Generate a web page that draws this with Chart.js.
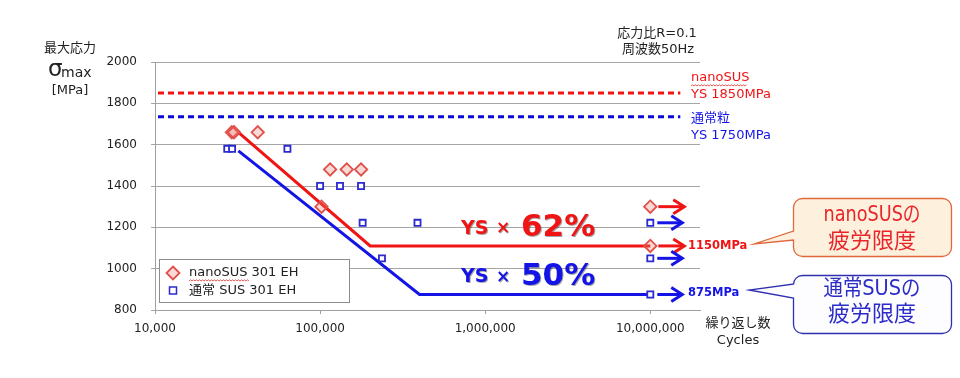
<!DOCTYPE html>
<html>
<head>
<meta charset="utf-8">
<script src="https://cdn.jsdelivr.net/npm/chart.js@4.4.1/dist/chart.umd.min.js"></script>
<style>
  html, body { margin: 0; padding: 0; background: #fff; }
  canvas { display: block; }
</style>
</head>
<body>
<canvas id="chart1" width="960" height="378"></canvas>
<script>
// axis ticks
var xTicks = [10000, 100000, 1000000, 10000000];
var xTickLabels = ['10,000', '100,000', '1,000,000', '10,000,000'];
var yTicks = [800, 1000, 1200, 1400, 1600, 1800, 2000];

// test results (cycles, max stress MPa)
var nanoCycles = [29200, 30100, 41900, 102000, 115000, 145000, 177000, 10000000, 10000000];
var nanoStress = [1660, 1660, 1660, 1300, 1480, 1480, 1480, 1300, 1110];
var normalCycles = [27400, 29300, 63400, 100000, 132000, 177000, 181000, 389000, 237000, 10000000, 10000000, 10000000];
var normalStress = [1580, 1580, 1580, 1400, 1400, 1400, 1222, 1222, 1050, 1222, 1050, 875];

// S-N fit lines
var nanoFitCycles = [32000, 201000, 10000000];
var nanoFitStress = [1660, 1110, 1110];
var normalFitCycles = [32000, 400000, 10000000];
var normalFitStress = [1570, 875, 875];

// yield strength lines
var ysCycles = [10430, 15200000];
var nanoYsStress = [1850, 1850];
var normalYsStress = [1735, 1735];

// run-outs (arrows at 10^7)
var runoutCycle = 10000000;
var nanoRunout = [1300, 1110];
var normalRunout = [1222, 1050, 875];

var nanoLimit = 1110, normalLimit = 875;

var FONT = '"DejaVu Sans", "Noto Sans CJK JP", sans-serif';
var RED = '#f01414', BLUE = '#1414e6';

function pts(xs, ys) {
  return xs.map(function(x, i) { return {x: x, y: ys[i]}; });
}

function squiggle(ctx, x1, x2, y) {
  ctx.save();
  ctx.strokeStyle = '#e03030';
  ctx.lineWidth = 0.8;
  ctx.beginPath();
  ctx.moveTo(x1, y);
  var up = true;
  for (var x = x1 + 1.5; x <= x2; x += 1.5) {
    ctx.lineTo(x, up ? y - 1.2 : y);
    up = !up;
  }
  ctx.stroke();
  ctx.restore();
}

function callout(ctx, bx, by, bw, bh, b1, b2, tx, ty, fill, stroke) {
  var r = 9;
  ctx.save();
  ctx.beginPath();
  ctx.moveTo(bx + r, by);
  ctx.lineTo(bx + bw - r, by);
  ctx.arcTo(bx + bw, by, bx + bw, by + r, r);
  ctx.lineTo(bx + bw, by + bh - r);
  ctx.arcTo(bx + bw, by + bh, bx + bw - r, by + bh, r);
  ctx.lineTo(bx + r, by + bh);
  ctx.arcTo(bx, by + bh, bx, by + bh - r, r);
  ctx.lineTo(bx, b2);
  ctx.lineTo(tx, ty);
  ctx.lineTo(bx, b1);
  ctx.lineTo(bx, by + r);
  ctx.arcTo(bx, by, bx + r, by, r);
  ctx.closePath();
  ctx.fillStyle = fill;
  ctx.fill();
  ctx.lineWidth = 1.3;
  ctx.strokeStyle = stroke;
  ctx.stroke();
  ctx.restore();
}

function arrow(ctx, x1, x2, y, color) {
  ctx.save();
  ctx.strokeStyle = color;
  ctx.lineWidth = 3;
  ctx.beginPath();
  ctx.moveTo(x1, y);
  ctx.lineTo(x2 - 1, y);
  ctx.stroke();
  ctx.beginPath();
  ctx.moveTo(x2 - 11, y - 7);
  ctx.lineTo(x2, y);
  ctx.lineTo(x2 - 11, y + 7);
  ctx.stroke();
  ctx.restore();
}

var decor = {
  id: 'decor',
  beforeDraw: function(chart) {
    var ctx = chart.ctx;
    ctx.save();
    ctx.fillStyle = '#fff';
    ctx.fillRect(0, 0, chart.width, chart.height);
    ctx.restore();
  },
  afterDatasetsDraw: function(chart) {
    var ctx = chart.ctx;
    var xs = chart.scales.x, ys = chart.scales.y;
    var rx = xs.getPixelForValue(runoutCycle);

    // run-out arrows
    nanoRunout.forEach(function(v) { arrow(ctx, rx + 8, rx + 34, ys.getPixelForValue(v), RED); });
    normalRunout.forEach(function(v) { arrow(ctx, rx + 7, rx + 32, ys.getPixelForValue(v), BLUE); });

    ctx.save();
    ctx.textBaseline = 'middle';

    // y axis title
    ctx.fillStyle = '#222';
    ctx.textAlign = 'center';
    ctx.font = '13px ' + FONT;
    ctx.fillText('最大応力', 70, 49);
    ctx.fillText('[MPa]', 70, 91);
    ctx.textAlign = 'left';
    ctx.font = '23px ' + FONT;
    ctx.fillText('σ', 48, 70);
    ctx.font = '14px ' + FONT;
    ctx.fillText('max', 61, 73);

    // test conditions
    ctx.textAlign = 'center';
    ctx.font = '13px ' + FONT;
    ctx.fillText('応力比R=0.1', 657, 34);
    ctx.fillText('周波数50Hz', 658, 50);

    // x axis title
    ctx.fillText('繰り返し数', 738, 324);
    ctx.fillText('Cycles', 738, 341);

    // YS labels
    ctx.textAlign = 'left';
    ctx.fillStyle = RED;
    ctx.fillText('nanoSUS', 691, 78);
    ctx.fillText('YS 1850MPa', 691, 95);
    ctx.fillStyle = BLUE;
    ctx.fillText('通常粒', 691, 119);
    ctx.fillText('YS 1750MPa', 691, 136);
    squiggle(ctx, 691, 747, 86);

    // fatigue limit values
    ctx.font = 'bold 11.5px ' + FONT;
    ctx.fillStyle = RED;
    ctx.fillText('1150MPa', 688, ys.getPixelForValue(nanoLimit));
    ctx.fillStyle = BLUE;
    ctx.fillText('875MPa', 688, ys.getPixelForValue(normalLimit) - 1);

    // YS ratio
    ctx.shadowColor = 'rgba(0,0,0,0.35)';
    ctx.shadowOffsetX = 1;
    ctx.shadowOffsetY = 1;
    [[nanoLimit, RED, '62%'], [normalLimit, BLUE, '50%']].forEach(function(r) {
      var y = ys.getPixelForValue(r[0]) - 18;
      ctx.fillStyle = r[1];
      ctx.font = 'bold 19px ' + FONT;
      ctx.fillText('YS', 461, y + 1);
      ctx.font = 'bold 17px ' + FONT;
      ctx.fillText('×', 496, y + 1);
      ctx.font = 'bold 31px ' + FONT;
      ctx.fillText(r[2], 521, y);
    });
    ctx.shadowColor = 'transparent';

    // legend
    ctx.fillStyle = '#fff';
    ctx.fillRect(159.5, 259.5, 190, 43);
    ctx.strokeStyle = '#8c8c8c';
    ctx.lineWidth = 1;
    ctx.strokeRect(159.5, 259.5, 190, 43);
    ctx.beginPath();
    ctx.moveTo(173, 266.5); ctx.lineTo(179.5, 273); ctx.lineTo(173, 279.5); ctx.lineTo(166.5, 273); ctx.closePath();
    ctx.fillStyle = 'rgba(235,130,120,0.3)';
    ctx.fill();
    ctx.strokeStyle = '#e0504a';
    ctx.lineWidth = 1.8;
    ctx.stroke();
    ctx.strokeStyle = '#2a2ad0';
    ctx.lineWidth = 1.5;
    ctx.strokeRect(169.5, 287, 7, 7);
    ctx.fillStyle = '#222';
    ctx.font = '13px ' + FONT;
    ctx.fillText('nanoSUS 301 EH', 189, 273);
    ctx.fillText('通常 SUS 301 EH', 189, 291);
    squiggle(ctx, 189, 250, 281);

    // callouts
    callout(ctx, 793.5, 198.5, 158, 58, 231, 240, 754, 244, '#fdf0dc', '#e0683c');
    callout(ctx, 793.5, 275.5, 158, 58, 284, 298, 749, 290, '#fdfdff', '#2f2fb0');
    ctx.textAlign = 'center';
    ctx.font = '22px ' + FONT;
    ctx.fillStyle = '#e8262a';
    ctx.fillText('nanoSUSの', 872, 215, 97);
    ctx.fillText('疲労限度', 872, 242);
    ctx.fillStyle = '#2b2bc8';
    ctx.fillText('通常SUSの', 872, 289, 97);
    ctx.fillText('疲労限度', 872, 315);
    ctx.restore();
  }
};

var ctx = document.getElementById('chart1').getContext('2d');

var myChart = new Chart(ctx, {
  type: 'scatter',
  data: {
    datasets: [{
      label: 'nanoSUS 301 EH',
      data: pts(nanoCycles, nanoStress),
      pointStyle: 'rectRot',
      pointRadius: 6.2,
      borderWidth: 1.8,
      borderColor: '#e0504a',
      backgroundColor: 'rgba(235,130,120,0.3)'
    },
    {
      label: '通常 SUS 301 EH',
      data: pts(normalCycles, normalStress),
      pointStyle: 'rect',
      pointRadius: 4.3,
      borderWidth: 1.8,
      borderColor: '#2a2ad0',
      backgroundColor: '#fff'
    },
    {
      label: 'nanoFit',
      data: pts(nanoFitCycles, nanoFitStress),
      showLine: true,
      pointRadius: 0,
      borderColor: RED,
      borderWidth: 3
    },
    {
      label: 'normalFit',
      data: pts(normalFitCycles, normalFitStress),
      showLine: true,
      pointRadius: 0,
      borderColor: BLUE,
      borderWidth: 3
    },
    {
      label: 'nanoYS',
      data: pts(ysCycles, nanoYsStress),
      showLine: true,
      pointRadius: 0,
      borderColor: RED,
      borderWidth: 3,
      borderDash: [6, 4]
    },
    {
      label: 'normalYS',
      data: pts(ysCycles, normalYsStress),
      showLine: true,
      pointRadius: 0,
      borderColor: '#0a0ad8',
      borderWidth: 3,
      borderDash: [6, 4]
    }]
  },
  options: {
    responsive: false,
    animation: false,
    devicePixelRatio: 1,
    layout: {
      padding: { top: 62, right: 260, bottom: 0, left: 0 }
    },
    plugins: {
      legend: { display: false },
      tooltip: { enabled: false }
    },
    scales: {
      x: {
        type: 'logarithmic',
        min: 10000,
        max: 20000000,
        afterBuildTicks: function(scale) {
          scale.ticks = xTicks.map(function(v) { return {value: v}; });
        },
        afterFit: function(scale) { scale.height = 68; },
        ticks: {
          autoSkip: false,
          maxRotation: 0,
          padding: 8,
          color: '#222',
          font: { family: FONT, size: 12 },
          callback: function(v) { return xTickLabels[xTicks.indexOf(v)]; }
        },
        grid: {
          drawOnChartArea: false,
          tickLength: 4,
          color: '#a0a0a0'
        },
        border: { color: '#a0a0a0' }
      },
      y: {
        min: 800,
        max: 2000,
        afterBuildTicks: function(scale) {
          scale.ticks = yTicks.map(function(v) { return {value: v}; });
        },
        afterFit: function(scale) { scale.width = 155; },
        ticks: {
          padding: 14,
          color: '#222',
          font: { family: FONT, size: 12 },
          callback: function(v) { return String(v); }
        },
        grid: {
          tickLength: 4,
          color: '#a6a6a6'
        },
        border: { color: '#a0a0a0' }
      }
    }
  },
  plugins: [decor]
});
</script>
</body>
</html>
